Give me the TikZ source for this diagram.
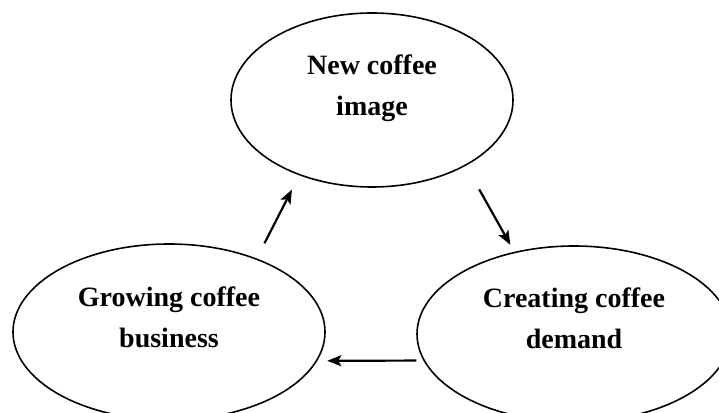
\documentclass[tikz,border=0pt]{standalone}
\usepackage{fontspec}
\setmainfont{Liberation Serif}
\usetikzlibrary{shapes.geometric,arrows.meta}

\tikzset{
  bubble/.style={draw,ellipse,line width=1.6pt,inner sep=0pt},
  caption/.style={font=\bfseries\fontsize{28}{41}\selectfont,align=center},
  flow/.style={-{Stealth[length=14pt,width=11pt,inset=3pt]},line width=2.2pt},
}

\begin{document}
\begin{tikzpicture}[x=1pt,y=1pt]
\useasboundingbox (0,0) rectangle (719,412);
% the three stages of the cycle
\node[bubble,minimum width=282pt,minimum height=174pt] (image) at (372,312) {};
\node[bubble,minimum width=312pt,minimum height=176pt] (grow) at (169,80) {};
\node[bubble,minimum width=314pt,minimum height=176pt] (demand) at (574,78) {};
\node[caption] (image-text) at (372,324) {New coffee\\image};
\node[caption] (grow-text) at (169,95) {Growing coffee\\business};
\node[caption] (demand-text) at (574,94) {Creating coffee\\demand};
% arrows round the cycle
\draw[flow,shorten <=17pt,shorten >=16pt] (grow.40) -- (image.-134);
\draw[flow,shorten <=27pt,shorten >=8pt] (image.-35) -- (demand.126);
\draw[flow,shorten <=7pt,shorten >=10pt] (demand.-170) -- (grow.-11);
\end{tikzpicture}
\end{document}
